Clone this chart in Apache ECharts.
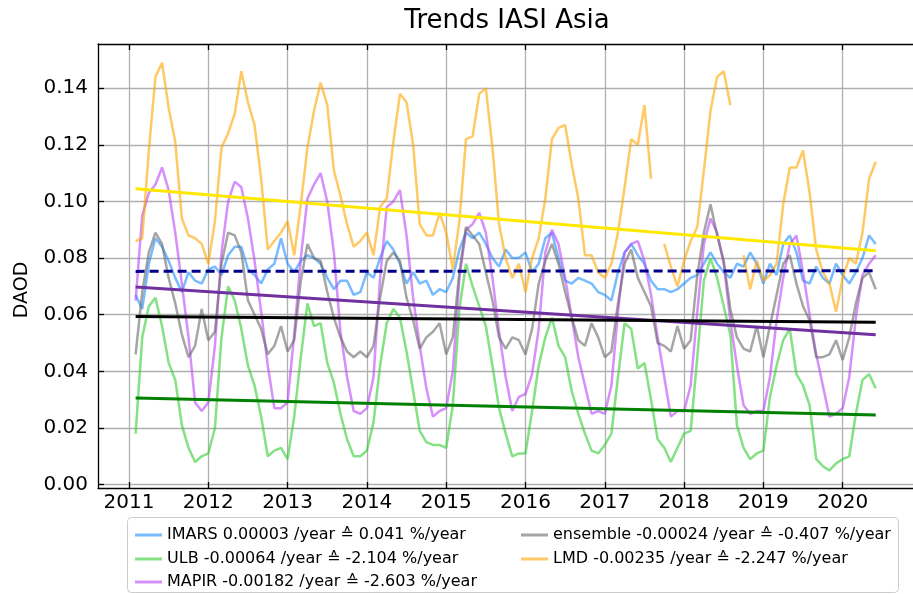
<!DOCTYPE html>
<html><head><meta charset="utf-8">
<script src="https://cdn.jsdelivr.net/npm/echarts@6/dist/echarts.min.js"></script>
<style>html,body{margin:0;padding:0;background:#fff}#c{width:913px;height:594px}</style>
</head><body><div id="c"></div>
<script>
// Monthly series, Feb 2011 .. Jun 2020 (113 months)
const firstYear = 2011, firstMonth = 2, monthCount = 113;

const seriesNames = [
  'IMARS 0.00003 /year \u2259 0.041 %/year',
  'ULB -0.00064 /year \u2259 -2.104 %/year',
  'MAPIR -0.00182 /year \u2259 -2.603 %/year',
  'ensemble -0.00024 /year \u2259 -0.407 %/year',
  'LMD -0.00235 /year \u2259 -2.247 %/year'
];

const imars = [
  0.067,0.062,0.078,0.087,0.084,0.079,0.073,0.068,0.075,0.072,
  0.071,0.076,0.077,0.074,0.081,0.084,0.084,0.076,0.074,0.071,
  0.076,0.078,0.087,0.078,0.075,0.079,0.081,0.080,0.078,0.073,
  0.069,0.072,0.072,0.067,0.068,0.075,0.073,0.080,0.086,0.083,
  0.078,0.071,0.075,0.071,0.072,0.067,0.069,0.068,0.073,0.083,
  0.089,0.087,0.089,0.085,0.080,0.077,0.083,0.080,0.080,0.082,
  0.075,0.078,0.087,0.089,0.080,0.072,0.071,0.073,0.072,0.071,
  0.068,0.067,0.065,0.075,0.082,0.085,0.081,0.078,0.072,0.069,
  0.069,0.068,0.069,0.071,0.073,0.074,0.078,0.082,0.078,0.075,
  0.073,0.078,0.077,0.082,0.078,0.071,0.078,0.074,0.085,0.088,
  0.082,0.072,0.071,0.077,0.073,0.071,0.078,0.074,0.071,0.075,
  0.080,0.088,0.085
];
const ulb = [
  0.018,0.052,0.063,0.066,0.056,0.043,0.037,0.021,0.013,0.008,
  0.010,0.011,0.020,0.052,0.070,0.065,0.055,0.042,0.035,0.024,
  0.010,0.012,0.013,0.009,0.024,0.045,0.064,0.056,0.057,0.043,
  0.036,0.025,0.016,0.010,0.010,0.012,0.022,0.042,0.057,0.062,
  0.059,0.047,0.033,0.019,0.015,0.014,0.014,0.013,0.028,0.062,
  0.078,0.070,0.063,0.056,0.042,0.027,0.018,0.010,0.011,0.011,
  0.026,0.042,0.052,0.059,0.049,0.045,0.033,0.025,0.018,0.012,
  0.011,0.014,0.018,0.038,0.057,0.055,0.041,0.043,0.030,0.016,
  0.013,0.008,0.013,0.018,0.019,0.045,0.072,0.080,0.073,0.063,
  0.053,0.021,0.013,0.009,0.011,0.012,0.031,0.042,0.051,0.055,
  0.039,0.035,0.028,0.009,0.0065,0.005,0.0075,0.009,0.010,0.025,
  0.037,0.039,0.034
];
const mapir = [
  0.065,0.095,0.103,0.106,0.112,0.104,0.089,0.071,0.052,0.029,
  0.026,0.029,0.049,0.082,0.100,0.107,0.105,0.094,0.079,0.061,
  0.042,0.027,0.027,0.029,0.053,0.080,0.101,0.106,0.110,0.100,
  0.082,0.054,0.038,0.026,0.025,0.027,0.038,0.073,0.098,0.100,
  0.104,0.088,0.066,0.049,0.034,0.024,0.026,0.027,0.040,0.073,
  0.090,0.092,0.096,0.089,0.073,0.054,0.038,0.026,0.031,0.032,
  0.039,0.055,0.082,0.090,0.085,0.073,0.059,0.045,0.035,0.025,
  0.026,0.025,0.035,0.061,0.082,0.085,0.086,0.079,0.067,0.052,
  0.038,0.024,0.026,0.026,0.035,0.061,0.085,0.094,0.089,0.078,
  0.058,0.042,0.028,0.025,0.026,0.026,0.038,0.058,0.073,0.085,
  0.088,0.075,0.060,0.046,0.035,0.024,0.025,0.027,0.038,0.059,
  0.074,0.078,0.081
];
const ensemble = [
  0.046,0.068,0.082,0.089,0.085,0.073,0.064,0.053,0.045,0.049,
  0.062,0.051,0.054,0.078,0.089,0.088,0.082,0.065,0.060,0.055,
  0.046,0.049,0.056,0.047,0.051,0.072,0.085,0.080,0.079,0.068,
  0.059,0.052,0.047,0.045,0.047,0.045,0.049,0.066,0.079,0.082,
  0.079,0.066,0.058,0.048,0.052,0.054,0.057,0.046,0.052,0.075,
  0.091,0.088,0.085,0.075,0.065,0.052,0.048,0.052,0.051,0.046,
  0.055,0.071,0.079,0.085,0.078,0.068,0.059,0.051,0.049,0.057,
  0.052,0.045,0.047,0.064,0.078,0.083,0.073,0.068,0.063,0.050,
  0.049,0.047,0.056,0.048,0.051,0.074,0.089,0.099,0.088,0.079,
  0.062,0.052,0.048,0.047,0.056,0.045,0.056,0.067,0.078,0.081,
  0.071,0.063,0.058,0.045,0.045,0.046,0.051,0.044,0.052,0.064,
  0.073,0.075,0.069
];
const lmd = [
  0.086,0.087,0.118,0.144,0.149,0.133,0.121,0.094,0.088,0.087,
  0.085,0.078,0.093,0.119,0.124,0.131,0.146,0.135,0.127,0.108,
  0.083,0.086,0.089,0.093,0.081,0.099,0.119,0.132,0.142,0.134,
  0.111,0.102,0.092,0.084,0.086,0.089,0.081,0.098,0.101,0.121,
  0.138,0.135,0.120,0.092,0.088,0.088,0.096,0.089,0.076,0.093,
  0.122,0.123,0.138,0.140,0.119,0.092,0.080,0.073,0.078,0.068,
  0.080,0.087,0.101,0.122,0.126,0.127,0.113,0.101,0.081,0.081,
  0.075,0.073,0.078,0.089,0.105,0.122,0.120,0.134,0.108,null,
  0.085,0.077,0.070,0.079,0.086,0.091,0.111,0.132,0.144,0.146,
  0.134,null,0.081,0.069,0.079,0.072,0.074,0.078,0.099,0.112,
  0.112,0.118,0.103,0.083,0.075,0.071,0.061,0.073,0.080,0.078,
  0.089,0.108,0.114
];

// Linear trend lines: value at first and last month
const trendStart = [0.0753, 0.0306, 0.0698, 0.0594, 0.1045];
const trendEnd   = [0.0755, 0.0246, 0.0529, 0.0573, 0.0826];

const xTicks = [2011,2012,2013,2014,2015,2016,2017,2018,2019,2020];
const yTicks = [0,0.02,0.04,0.06,0.08,0.10,0.12,0.14];

const lineColors  = ['#1e90ff','#32cd32','#b946f5','#696969','#ffa500'];
const trendColors = ['#00008b','#008000','#7030a0','#000000','#ffe800'];

const months = [];
for (let i = 0; i < monthCount; i++) months.push(firstYear + (firstMonth - 1 + i) / 12);
const allData = [imars, ulb, mapir, ensemble, lmd];

const FONT = 'DejaVu Sans';
const series = [];
allData.forEach((arr, k) => {
  series.push({
    name: seriesNames[k], type: 'line', showSymbol: false, symbol: 'none',
    connectNulls: false, color: lineColors[k],
    itemStyle: {color: lineColors[k], opacity: 0.6},
    lineStyle: {width: 2.5, color: lineColors[k], opacity: 0.6},
    data: arr.map((v, i) => [months[i], v]),
    z: 2 + k, animation: false
  });
});
trendStart.forEach((s, k) => {
  series.push({
    name: 'trend' + k, type: 'line', showSymbol: false, symbol: 'none',
    lineStyle: {width: 3, color: trendColors[k], type: k === 0 ? [9, 5] : 'solid'},
    data: [[months[0], s], [months[monthCount - 1], trendEnd[k]]],
    z: 10, animation: false
  });
});

const legendPos = [[135, 526], [135, 550], [135, 573], [521, 526], [521, 550]];
const legends = seriesNames.map((n, k) => ({
  data: [n], left: legendPos[k][0], top: legendPos[k][1], padding: 0,
  icon: 'rect', itemWidth: 27, itemHeight: 3, itemGap: 0, selectedMode: false,
  itemStyle: {opacity: 0.6},
  textStyle: {fontFamily: FONT, fontSize: 16, color: '#000', lineHeight: 18}
}));

const axisLineStyle = {color: '#000', width: 1.3};
const option = {
  animation: false,
  backgroundColor: '#fff',
  title: {text: 'Trends IASI Asia', left: 507, top: 8, textAlign: 'center', padding: 0,
    textStyle: {fontFamily: FONT, fontSize: 26, fontWeight: 'normal', color: '#000'}},
  grid: {left: 98, top: 44, width: 823, height: 444, containLabel: false},
  legend: legends,
  graphic: [
    {type: 'rect', left: 127, top: 517, z: -10,
      shape: {width: 771, height: 75, r: 4},
      style: {fill: '#fff', stroke: '#cccccc', lineWidth: 1}},
    {type: 'text', x: 13, y: 290, rotation: Math.PI / 2,
      style: {text: 'DAOD', fontFamily: FONT, fontSize: 19, fill: '#000',
        textAlign: 'center', textVerticalAlign: 'top'}}
  ],
  xAxis: [{
    type: 'value', min: 2010.609, max: 2020.887, position: 'bottom',
    axisLine: {show: true, onZero: false, lineStyle: axisLineStyle},
    axisTick: {show: true, inside: true, length: 6, customValues: xTicks, lineStyle: axisLineStyle},
    axisLabel: {customValues: xTicks, formatter: v => String(Math.round(v)), margin: 5,
      fontFamily: FONT, fontSize: 20, color: '#000'},
    splitLine: {show: true, lineStyle: {color: '#b0b0b0', width: 1.3}}
  }, {
    type: 'value', min: 2010.609, max: 2020.887, position: 'top',
    axisLine: {show: true, onZero: false, lineStyle: axisLineStyle},
    axisTick: {show: true, inside: true, length: 6, customValues: xTicks, lineStyle: axisLineStyle},
    axisLabel: {show: false, customValues: xTicks},
    splitLine: {show: false}
  }],
  yAxis: [{
    type: 'value', min: -0.0012, max: 0.1556,
    axisLine: {show: true, onZero: false, lineStyle: axisLineStyle},
    axisTick: {show: true, inside: true, length: 6, customValues: yTicks, lineStyle: axisLineStyle},
    axisLabel: {customValues: yTicks, formatter: v => v.toFixed(2), margin: 10,
      fontFamily: FONT, fontSize: 20, color: '#000'},
    splitLine: {show: true, lineStyle: {color: '#b0b0b0', width: 1.3}}
  }],
  series: series
};
const chart = echarts.init(document.getElementById('c'), null, {renderer: 'canvas'});
chart.setOption(option);
</script>
</body></html>
